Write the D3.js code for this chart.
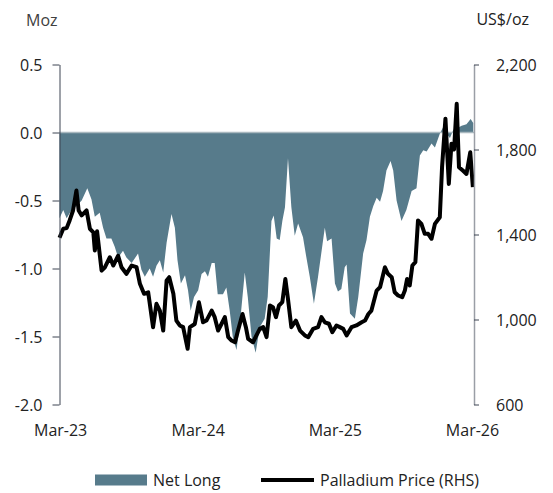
<!DOCTYPE html>
<html>
<head>
<meta charset="utf-8">
<script src="https://cdn.jsdelivr.net/npm/d3@7"></script>
<style>
  body { margin: 0; background: #fff; }
  svg { display: block; font-family: "Open Sans", sans-serif; }
</style>
</head>
<body>
<svg width="553" height="493"></svg>
<script>
// net long position (Moz), weekly-ish readings
var netDates = ["2023-02-26","2023-03-08","2023-03-17","2023-03-30","2023-04-12","2023-04-26","2023-05-11","2023-05-22","2023-05-31","2023-06-13",
  "2023-06-22","2023-07-01","2023-07-14","2023-07-23","2023-08-01","2023-08-14","2023-08-23","2023-09-06","2023-09-23","2023-10-02",
  "2023-10-11","2023-10-24","2023-11-02","2023-11-11","2023-11-20","2023-11-29","2023-12-08","2023-12-21","2023-12-30","2024-01-06",
  "2024-01-15","2024-01-26","2024-02-03","2024-02-10","2024-02-19","2024-03-01","2024-03-10","2024-03-19","2024-03-27","2024-04-06",
  "2024-04-14","2024-04-22","2024-05-06","2024-05-15","2024-05-24","2024-06-01","2024-06-11","2024-06-20","2024-07-03","2024-07-11",
  "2024-07-21","2024-08-01","2024-08-12","2024-08-25","2024-09-02","2024-09-12","2024-09-18","2024-09-26","2024-10-04","2024-10-11",
  "2024-10-18","2024-10-26","2024-11-04","2024-11-13","2024-11-22","2024-12-05","2024-12-14","2024-12-23","2025-01-03","2025-01-14",
  "2025-01-26","2025-02-01","2025-02-07","2025-02-19","2025-02-28","2025-03-08","2025-03-17","2025-03-26","2025-03-31","2025-04-09",
  "2025-04-22","2025-05-01","2025-05-14","2025-05-23","2025-06-01","2025-06-10","2025-06-19","2025-06-28","2025-07-06","2025-07-15",
  "2025-07-26","2025-08-02","2025-08-11","2025-08-24","2025-09-06","2025-09-20","2025-10-03","2025-10-12","2025-10-21","2025-10-30",
  "2025-11-12","2025-11-21","2025-12-04","2025-12-13","2025-12-22","2025-12-31","2026-01-09","2026-01-18","2026-01-31","2026-02-13",
  "2026-02-24","2026-03-03"];
var netLong = [-0.63,-0.57,-0.63,-0.57,-0.54,-0.50,-0.41,-0.49,-0.62,-0.59,
  -0.70,-0.78,-0.78,-0.84,-0.92,-0.87,-0.92,-0.96,-0.89,-1.01,
  -1.06,-1.00,-1.06,-0.98,-0.94,-1.03,-0.81,-0.60,-0.70,-0.94,
  -1.11,-1.05,-1.16,-1.31,-1.21,-1.16,-1.04,-1.02,-1.06,-0.96,
  -0.96,-1.19,-1.19,-1.14,-1.31,-1.50,-1.60,-1.41,-1.03,-1.21,
  -1.50,-1.62,-1.43,-1.37,-1.21,-0.65,-0.61,-0.78,-0.79,-0.65,
  -0.55,-0.19,-0.55,-0.76,-0.67,-0.77,-0.92,-1.06,-1.26,-1.06,
  -0.82,-0.70,-0.80,-0.78,-1.11,-1.17,-1.15,-0.99,-0.97,-1.33,
  -1.37,-1.21,-0.89,-0.79,-0.62,-0.54,-0.48,-0.51,-0.43,-0.28,
  -0.21,-0.28,-0.50,-0.65,-0.57,-0.43,-0.41,-0.17,-0.13,-0.14,
  -0.08,-0.11,-0.01,0.04,-0.01,-0.04,0.02,0.03,0.05,0.06,
  0.10,0.07];

// palladium price (US$/oz)
var priceDates = ["2023-02-26","2023-03-08","2023-03-17","2023-03-25","2023-04-03","2023-04-12","2023-04-18","2023-04-26","2023-05-09","2023-05-18",
  "2023-05-27","2023-05-31","2023-06-06","2023-06-18","2023-06-27","2023-07-10","2023-07-19","2023-08-01","2023-08-10","2023-08-23",
  "2023-09-06","2023-09-19","2023-09-28","2023-10-09","2023-10-20","2023-11-02","2023-11-11","2023-11-20","2023-11-29","2023-12-08",
  "2023-12-15","2023-12-26","2024-01-03","2024-01-12","2024-01-21","2024-02-02","2024-02-08","2024-02-21","2024-03-03","2024-03-14",
  "2024-03-23","2024-04-06","2024-04-14","2024-04-23","2024-05-02","2024-05-11","2024-05-20","2024-05-29","2024-06-07","2024-06-15",
  "2024-06-27","2024-07-06","2024-07-12","2024-07-25","2024-08-03","2024-08-12","2024-08-21","2024-08-30","2024-09-08","2024-09-16",
  "2024-09-24","2024-10-02","2024-10-11","2024-10-19","2024-10-26","2024-11-04","2024-11-16","2024-11-27","2024-12-10","2024-12-19",
  "2025-01-01","2025-01-14","2025-01-23","2025-02-01","2025-02-12","2025-02-21","2025-03-04","2025-03-13","2025-03-22","2025-03-31",
  "2025-04-13","2025-04-26","2025-05-10","2025-05-19","2025-05-28","2025-06-05","2025-06-19","2025-06-28","2025-07-11","2025-07-19",
  "2025-07-29","2025-08-06","2025-08-15","2025-08-26","2025-09-02","2025-09-08","2025-09-15","2025-09-22","2025-09-30","2025-10-07",
  "2025-10-16","2025-10-25","2025-11-03","2025-11-12","2025-11-21","2025-12-04","2025-12-10","2025-12-19","2025-12-28","2026-01-04",
  "2026-01-11","2026-01-18","2026-01-24","2026-02-04","2026-02-13","2026-02-23","2026-03-02"];
var price = [1385,1427,1430,1466,1513,1607,1513,1490,1513,1427,
  1410,1325,1415,1230,1246,1293,1254,1300,1246,1215,
  1254,1246,1168,1121,1128,964,1074,1042,948,1184,
  1199,1121,995,972,964,862,964,979,1081,987,
  995,1042,1011,948,979,1011,917,901,893,948,
  1026,964,909,893,925,956,964,917,1066,1058,
  1011,1066,1082,1191,1097,964,995,948,925,917,
  956,964,1011,987,980,940,972,964,956,925,
  964,972,987,995,1026,1042,1136,1152,1246,1215,
  1199,1128,1113,1105,1136,1191,1160,1254,1270,1466,
  1450,1403,1403,1380,1450,1481,1717,1945,1638,1827,
  1800,2015,1717,1700,1685,1787,1623];

var leftTicks = [0.5, 0, -0.5, -1, -1.5, -2];
var rightTicks = [600, 1000, 1400, 1800, 2200];
var xTickDates = ["2023-03-01","2024-03-01","2025-03-01","2026-03-01"];

var parse = d3.timeParse("%Y-%m-%d");
var svg = d3.select("svg");

var x = d3.scaleTime()
  .domain([parse("2023-02-26"), parse("2026-03-05")])
  .range([59.5, 474]);
var yL = d3.scaleLinear().domain([-2, 0.5]).range([404.5, 64.5]);
var yR = d3.scaleLinear().domain([600, 2200]).range([404.5, 64.5]);

var netData = netDates.map(function(d, i) { return {date: parse(d), v: netLong[i]}; });
var priceData = priceDates.map(function(d, i) { return {date: parse(d), v: price[i]}; });

var areaColor = "#577b8b";

// net long area
svg.append("path")
  .datum(netData)
  .attr("fill", areaColor)
  .attr("d", d3.area()
    .x(function(d) { return x(d.date); })
    .y0(yL(0))
    .y1(function(d) { return yL(d.v); }));

// zero line
svg.append("line")
  .attr("x1", x.range()[0]).attr("x2", x.range()[1])
  .attr("y1", yL(0)).attr("y2", yL(0))
  .attr("stroke", "#a9b8bf")
  .attr("stroke-width", 1.3);

// price line
svg.append("path")
  .datum(priceData)
  .attr("fill", "none")
  .attr("stroke", "#000")
  .attr("stroke-width", 4)
  .attr("stroke-linejoin", "round")
  .attr("d", d3.line()
    .x(function(d) { return x(d.date); })
    .y(function(d) { return yR(d.v); }));

// left axis
var gL = svg.append("g")
  .attr("transform", "translate(" + x.range()[0] + ",0)")
  .call(d3.axisLeft(yL)
    .tickValues(leftTicks)
    .tickFormat(function(d) { return d.toFixed(1); })
    .tickSize(7).tickSizeOuter(0).tickPadding(10));
gL.select(".domain").attr("stroke", "#3d4452");
gL.selectAll(".tick line").attr("stroke", "#3d4452");

// right axis
var gR = svg.append("g")
  .attr("transform", "translate(" + x.range()[1] + ",0)")
  .call(d3.axisRight(yR)
    .tickValues(rightTicks)
    .tickFormat(d3.format(","))
    .tickSize(5).tickSizeOuter(0).tickPadding(17));
gR.select(".domain").attr("stroke", "#9a9ea6").attr("stroke-width", 1.5);
gR.selectAll(".tick line").attr("stroke", "#3d4452");

svg.selectAll(".tick text")
  .attr("font-family", "Open Sans, sans-serif")
  .attr("font-size", 16)
  .attr("fill", "#222")
  .attr("dy", "0.4em");

// x labels
var fmt = d3.timeFormat("%b-%y");
svg.append("g").selectAll("text")
  .data(xTickDates.map(parse))
  .enter().append("text")
    .attr("x", function(d) { return x(d); })
    .attr("y", 436)
    .attr("text-anchor", "middle")
    .attr("font-size", 16)
    .attr("fill", "#222")
    .text(fmt);

// unit labels
svg.append("text").attr("x", 26).attr("y", 26)
  .attr("font-size", 16).attr("fill", "#404040").text("Moz");
svg.append("text").attr("x", 529).attr("y", 25)
  .attr("text-anchor", "end")
  .attr("font-size", 16).attr("fill", "#222").text("US$/oz");

// legend
var lg = svg.append("g");
lg.append("rect").attr("x", 95).attr("y", 474.5).attr("width", 52).attr("height", 11)
  .attr("fill", areaColor);
lg.append("text").attr("x", 153).attr("y", 486)
  .attr("font-size", 16).attr("fill", "#222").text("Net Long");
lg.append("line").attr("x1", 261).attr("x2", 314).attr("y1", 480).attr("y2", 480)
  .attr("stroke", "#000").attr("stroke-width", 4);
lg.append("text").attr("x", 320).attr("y", 486)
  .attr("font-size", 16).attr("fill", "#222").text("Palladium Price (RHS)");
</script>
</body>
</html>
